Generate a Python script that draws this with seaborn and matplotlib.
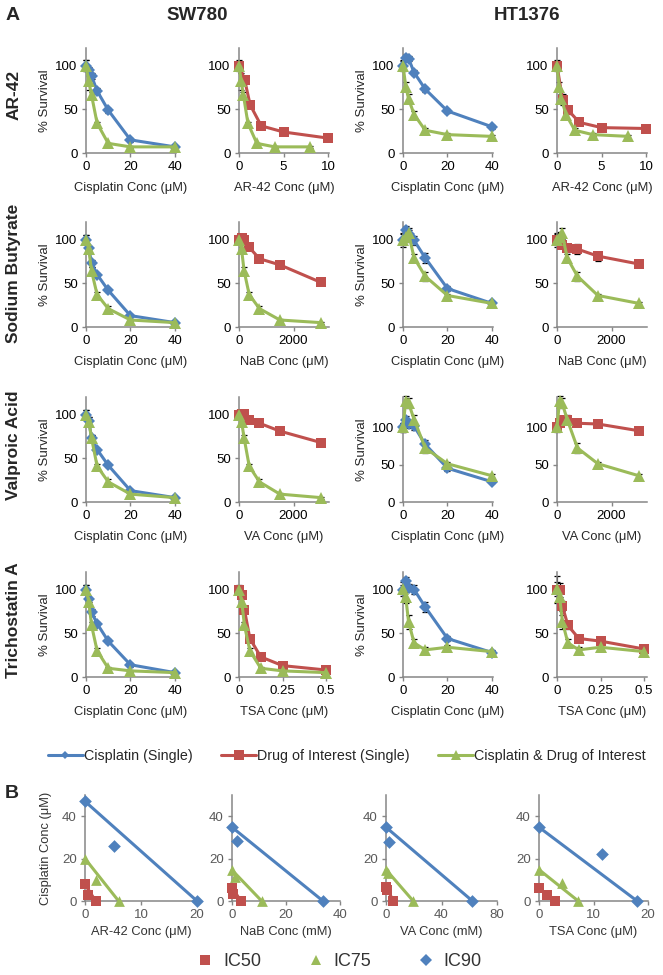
import matplotlib
matplotlib.use("Agg")
import matplotlib.pyplot as plt
import seaborn as sns
from matplotlib.lines import Line2D

# ---------------- panel A data (% survival) ----------------
cis_x = [0, 1.25, 2.5, 5, 10, 20, 40]
ar42_x = [0, 0.625, 1.25, 2.5, 5, 10]
ar42_combo_x = [0, 0.25, 0.5, 1, 2, 4, 8]
nab_x = [0, 93.75, 187.5, 375, 750, 1500, 3000]
va_x = [0, 93.75, 187.5, 375, 750, 1500, 3000]
tsa_x = [0, 0.015625, 0.03125, 0.0625, 0.125, 0.25, 0.5]

sw_ar42_cis = [100, 95, 88, 71, 49, 15, 7]
sw_ar42_drug = [100, 84, 55, 31, 24, 17]
sw_ar42_combo = [100, 82, 66, 34, 11, 7, 7]
sw_nab_cis = [100, 90, 73, 60, 42, 13, 5]
sw_nab_drug = [100, 102, 100, 91, 78, 71, 51]
sw_nab_combo = [100, 89, 64, 37, 21, 8, 5]
sw_va_cis = [100, 93, 73, 60, 42, 13, 5]
sw_va_drug = [100, 101, 101, 94, 90, 81, 68]
sw_va_combo = [100, 92, 73, 41, 23, 9, 5]
sw_tsa_cis = [100, 89, 74, 61, 41, 14, 5]
sw_tsa_drug = [100, 94, 77, 44, 23, 13, 8]
sw_tsa_combo = [100, 86, 59, 30, 10, 7, 5]

ht_ar42_cis = [100, 109, 108, 92, 73, 48, 30]
ht_ar42_drug = [100, 61, 49, 35, 29, 28]
ht_ar42_combo = [100, 76, 62, 44, 26, 21, 19]
ht_nab_cis = [100, 111, 106, 99, 79, 44, 27]
ht_nab_drug = [100, 98, 94, 90, 89, 81, 72]
ht_nab_combo = [100, 103, 107, 79, 58, 36, 27]
ht_va_cis = [100, 110, 104, 101, 77, 45, 27]
ht_va_drug = [100, 106, 110, 109, 105, 104, 95]
ht_va_combo = [100, 135, 132, 110, 72, 51, 35]
ht_tsa_cis = [100, 110, 102, 100, 80, 44, 28]
ht_tsa_drug = [100, 100, 81, 59, 44, 41, 32]
ht_tsa_combo = [101, 91, 63, 39, 31, 34, 29]

# error bars (± % survival)
sw_ar42_cis_err = [6, 3, 3, 3, 3, 2, 1]
sw_ar42_drug_err = [3, 3, 3, 2, 2, 2]
sw_ar42_combo_err = [6, 10, 4, 2, 1, 1, 1]
sw_nab_cis_err = [5, 3, 4, 2, 2, 2, 1]
sw_nab_drug_err = [3, 3, 2, 2, 2, 2, 2]
sw_nab_combo_err = [5, 3, 5, 3, 3, 1, 1]
sw_va_cis_err = [5, 4, 4, 2, 2, 2, 1]
sw_va_drug_err = [2, 2, 2, 2, 2, 2, 2]
sw_va_combo_err = [5, 5, 4, 3, 3, 1, 1]
sw_tsa_cis_err = [5, 3, 4, 2, 2, 2, 1]
sw_tsa_drug_err = [4, 3, 3, 2, 2, 2, 2]
sw_tsa_combo_err = [5, 4, 4, 3, 2, 1, 1]
ht_ar42_cis_err = [5, 4, 3, 3, 3, 2, 2]
ht_ar42_drug_err = [4, 6, 4, 3, 2, 2]
ht_ar42_combo_err = [6, 5, 5, 4, 3, 2, 2]
ht_nab_cis_err = [6, 4, 5, 5, 6, 3, 2]
ht_nab_drug_err = [6, 5, 4, 4, 6, 5, 3]
ht_nab_combo_err = [8, 6, 6, 4, 5, 2, 2]
ht_va_cis_err = [6, 5, 5, 5, 6, 3, 2]
ht_va_drug_err = [5, 4, 4, 3, 3, 3, 3]
ht_va_combo_err = [6, 6, 7, 6, 7, 3, 3]
ht_tsa_cis_err = [5, 4, 4, 5, 6, 3, 2]
ht_tsa_drug_err = [15, 8, 6, 4, 3, 3, 3]
ht_tsa_combo_err = [8, 6, 8, 4, 3, 3, 2]

row_names = ["AR-42", "Sodium Butyrate", "Valproic Acid", "Trichostatin A"]
drug_abbr = ["AR-42", "NaB", "VA", "TSA"]
cell_lines = ["SW780", "HT1376"]

# ---------------- panel B data (isobolograms, IC50 / IC75 / IC90) ----------------
ic_labels = ["IC50", "IC75", "IC90"]
b_xlabels = ["AR-42 Conc (μM)", "NaB Conc (mM)", "VA Conc (mM)", "TSA Conc (μM)"]
b_ar42_cis = [7.8, 20, 47]
b_ar42_drug = [1.9, 6, 20]
b_ar42_combo_x = [0.6, 1.9, 5.2]
b_ar42_combo_y = [3.0, 10, 26]
b_nab_cis = [6.3, 14.6, 34.8]
b_nab_drug = [3.3, 11, 33.7]
b_nab_combo_x = [0.25, 1.2, 1.8]
b_nab_combo_y = [3.1, 11.3, 28.2]
b_va_cis = [6.7, 14.8, 34.8]
b_va_drug = [5.3, 19.6, 62.3]
b_va_combo_x = [0.5, 1.7, 2.2]
b_va_combo_y = [5.2, 13, 27.8]
b_tsa_cis = [5.9, 14.8, 34.8]
b_tsa_drug = [2.9, 7.2, 18]
b_tsa_combo_x = [1.4, 4.3, 11.5]
b_tsa_combo_y = [2.8, 8.3, 22.3]

BLUE = "#4F81BD"
RED = "#C0504D"
GREEN = "#9BBB59"
AXC = "#868686"

sns.set_theme(style="white")
plt.rcParams["font.family"] = ["Liberation Sans", "DejaVu Sans"]

W, H = 663, 975
fig = plt.figure(figsize=(W / 100, H / 100), dpi=100)


def px_axes(left, bottom, width, height):
    # bottom is the pixel row (from the top) of the lower axis edge
    return fig.add_axes([left / W, 1 - bottom / H, width / W, height / H])


def style_axes(ax, labelcolor="black", size=9.5):
    sns.despine(ax=ax)
    for s in ["left", "bottom"]:
        ax.spines[s].set_color(AXC)
        ax.spines[s].set_linewidth(1.1)
    ax.tick_params(direction="out", length=3, width=1, color=AXC,
                   labelsize=size, labelcolor=labelcolor, pad=3,
                   left=True, bottom=True)
    ax.set_facecolor("none")


def curve(ax, x, y, err, color, marker, ms):
    ax.errorbar(x, y, yerr=err, fmt="none", ecolor="black", elinewidth=0.8,
                capsize=2.4, capthick=0.9, zorder=2, clip_on=False)
    sns.lineplot(x=x, y=y, ax=ax, color=color, marker=marker, markersize=ms,
                 markeredgewidth=0, linewidth=2.2, clip_on=False, zorder=3)


rows = [
    (ar42_x, ar42_combo_x, (0, 10.1), [0, 5, 10],
     [(sw_ar42_cis, sw_ar42_cis_err, sw_ar42_drug, sw_ar42_drug_err, sw_ar42_combo, sw_ar42_combo_err),
      (ht_ar42_cis, ht_ar42_cis_err, ht_ar42_drug, ht_ar42_drug_err, ht_ar42_combo, ht_ar42_combo_err)]),
    (nab_x, nab_x, (0, 3300), [0, 2000],
     [(sw_nab_cis, sw_nab_cis_err, sw_nab_drug, sw_nab_drug_err, sw_nab_combo, sw_nab_combo_err),
      (ht_nab_cis, ht_nab_cis_err, ht_nab_drug, ht_nab_drug_err, ht_nab_combo, ht_nab_combo_err)]),
    (va_x, va_x, (0, 3300), [0, 2000],
     [(sw_va_cis, sw_va_cis_err, sw_va_drug, sw_va_drug_err, sw_va_combo, sw_va_combo_err),
      (ht_va_cis, ht_va_cis_err, ht_va_drug, ht_va_drug_err, ht_va_combo, ht_va_combo_err)]),
    (tsa_x, tsa_x, (0, 0.517), [0, 0.25, 0.5],
     [(sw_tsa_cis, sw_tsa_cis_err, sw_tsa_drug, sw_tsa_drug_err, sw_tsa_combo, sw_tsa_combo_err),
      (ht_tsa_cis, ht_tsa_cis_err, ht_tsa_drug, ht_tsa_drug_err, ht_tsa_combo, ht_tsa_combo_err)]),
]

col_left = [86, 239, 403, 557]
row_bottom = [153, 327, 502, 677]
AW, AH = 90, 105

for r, (dx, cx, dxlim, dxticks, sets) in enumerate(rows):
    for c, (cis, cis_e, drug, drug_e, combo, combo_e) in enumerate(sets):
        ytop = 140 if (r == 2 and c == 1) else 120
        # cisplatin axis
        ax = px_axes(col_left[2 * c], row_bottom[r], AW, AH)
        curve(ax, cis_x, cis, cis_e, BLUE, "D", 6.5)
        curve(ax, cis_x, combo, combo_e, GREEN, "^", 8)
        ax.set_xlim(0, 40.5)
        ax.set_xticks([0, 20, 40])
        ax.set_ylim(0, ytop)
        ax.set_yticks([0, 50, 100])
        style_axes(ax)
        ax.set_xlabel("Cisplatin Conc (μM)", fontsize=9.3, labelpad=6)
        ax.set_ylabel("% Survival", fontsize=9.5, labelpad=3)
        # drug axis
        ax = px_axes(col_left[2 * c + 1], row_bottom[r], AW, AH)
        curve(ax, dx, drug, drug_e, RED, "s", 7)
        curve(ax, cx, combo, combo_e, GREEN, "^", 8)
        ax.set_xlim(*dxlim)
        ax.set_xticks(dxticks)
        ax.set_xticklabels([f"{t:g}" for t in dxticks])
        ax.set_ylim(0, ytop)
        ax.set_yticks([0, 50, 100])
        style_axes(ax)
        ax.set_xlabel(f"{drug_abbr[r]} Conc (μM)", fontsize=9.3, labelpad=6)
        ax.set_ylabel("")

# row / column titles
row_centers = [95, 273, 445, 620]
for name, yc in zip(row_names, row_centers):
    fig.text(14 / W, 1 - yc / H, name, rotation=90, ha="center", va="center",
             fontsize=12.5, fontweight="bold")
fig.text(197 / W, 1 - 16 / H, cell_lines[0], ha="center", va="center",
         fontsize=13.5, fontweight="bold")
fig.text(527 / W, 1 - 16 / H, cell_lines[1], ha="center", va="center",
         fontsize=13.5, fontweight="bold")
fig.text(13 / W, 1 - 15 / H, "A", ha="center", va="center", fontsize=14, fontweight="bold")
fig.text(12 / W, 1 - 794 / H, "B", ha="center", va="center", fontsize=14, fontweight="bold")

# legend A
hA = [Line2D([], [], color=BLUE, marker="D", markersize=4.5, markeredgewidth=0, linewidth=2.2),
      Line2D([], [], color=RED, marker="s", markersize=7.5, markeredgewidth=0, linewidth=2.2),
      Line2D([], [], color=GREEN, marker="^", markersize=7.5, markeredgewidth=0, linewidth=2.2)]
fig.legend(hA, ["Cisplatin (Single)", "Drug of Interest (Single)", "Cisplatin & Drug of Interest"],
           loc="center", bbox_to_anchor=(347 / W, 1 - 756 / H), ncol=3, frameon=False,
           fontsize=10.3, handlelength=2.4, handletextpad=0.1, columnspacing=2.0)

# ---------------- panel B ----------------
b_sets = [
    (b_ar42_cis, b_ar42_drug, b_ar42_combo_x, b_ar42_combo_y, (0, 20), [0, 10, 20]),
    (b_nab_cis, b_nab_drug, b_nab_combo_x, b_nab_combo_y, (0, 40), [0, 20, 40]),
    (b_va_cis, b_va_drug, b_va_combo_x, b_va_combo_y, (0, 80), [0, 40, 80]),
    (b_tsa_cis, b_tsa_drug, b_tsa_combo_x, b_tsa_combo_y, (0, 20), [0, 10, 20]),
]
b_left = [85, 232, 386, 539]
b_width = [112, 108, 111, 109]
ic_colors = [RED, GREEN, BLUE]
ic_markers = ["s", "^", "D"]
ic_sizes = [42, 60, 42]

for i, (cis, drug, comb_x, comb_y, xlim, xticks) in enumerate(b_sets):
    ax = px_axes(b_left[i], 901, b_width[i], 106)
    for k in range(3):
        sns.lineplot(x=[0, drug[k]], y=[cis[k], 0], ax=ax, color=ic_colors[k],
                     linewidth=2.2, clip_on=False, zorder=2)
        sns.scatterplot(x=[0, drug[k], comb_x[k]], y=[cis[k], 0, comb_y[k]], ax=ax,
                        color=ic_colors[k], marker=ic_markers[k], s=ic_sizes[k],
                        linewidth=0, clip_on=False, zorder=3)
    ax.set_xlim(*xlim)
    ax.set_xticks(xticks)
    ax.set_ylim(0, 50)
    ax.set_yticks([0, 20, 40])
    style_axes(ax, labelcolor="#595959", size=9.5)
    ax.set_xlabel(b_xlabels[i], fontsize=9.3, labelpad=3, color="#333333")
    if i == 0:
        ax.set_ylabel("Cisplatin Conc (μM)", fontsize=9.3, labelpad=7, color="#333333")
    else:
        ax.set_ylabel("")

hB = [Line2D([], [], color=c, marker=m, markersize=ms, markeredgewidth=0, linestyle="none")
      for c, m, ms in zip(ic_colors, ic_markers, [6.5, 7.5, 6])]
fig.legend(hB, ic_labels, loc="center", bbox_to_anchor=(340 / W, 1 - 962 / H), ncol=3,
           frameon=False, fontsize=13, handlelength=0.8, handletextpad=0.6, columnspacing=2.6,
           labelcolor="#333333")

fig.savefig("out.png", dpi=100)
